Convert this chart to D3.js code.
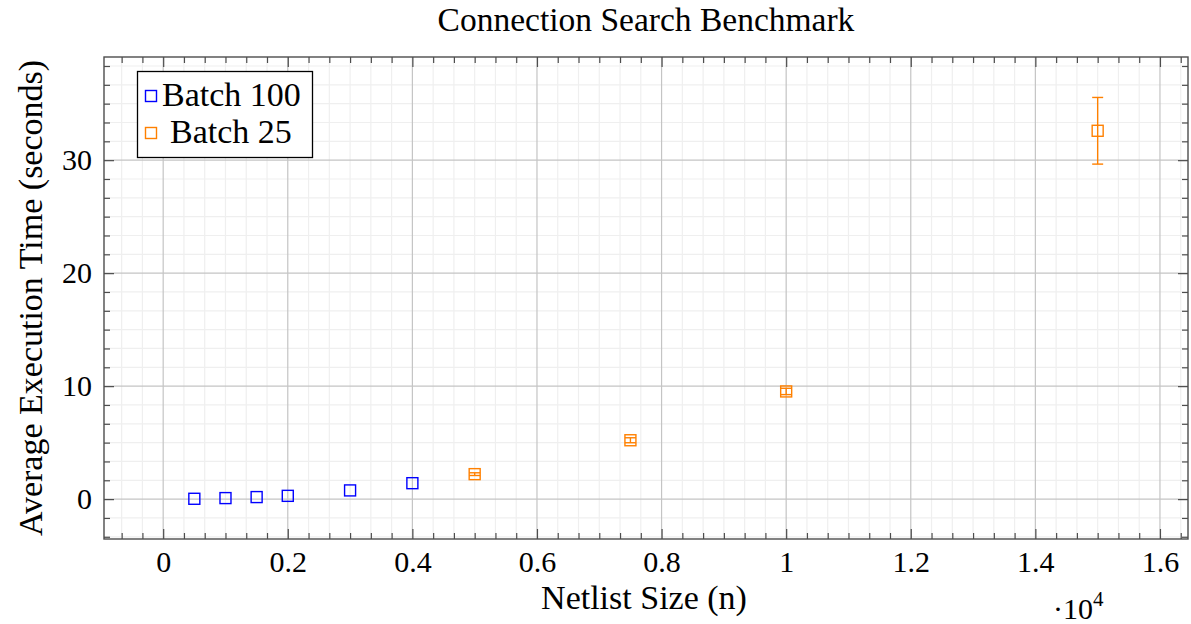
<!DOCTYPE html>
<html>
<head>
<meta charset="utf-8">
<script src="https://cdn.jsdelivr.net/npm/d3@7"></script>
<style>
  body { margin: 0; background: #fff; }
</style>
</head>
<body>
<div id="chart"></div>
<script>
// data
var batch100X = [500, 1000, 1500, 2000, 3000, 4000];
var batch100Y = [0.03, 0.09, 0.18, 0.29, 0.77, 1.41];
var batch25X = [5000, 7500, 10000, 15000];
var batch25Y = [2.21, 5.21, 9.53, 32.6];
var batch25Err = [0.12, 0.22, 0.28, 2.95];
var xTickValues = [0, 2000, 4000, 6000, 8000, 10000, 12000, 14000, 16000];
var yTickValues = [0, 10, 20, 30];
var seriesNames = ['Batch 100', 'Batch 25'];

var width = 1191, height = 624;
var margin = {left: 104, right: 3, top: 57, bottom: 85};
var plotW = width - margin.left - margin.right;
var plotH = height - margin.top - margin.bottom;

var blue = '#0000ff', orange = '#ff8000';
var frameColor = '#4d4d4d';
var serif = "'Liberation Serif', 'DejaVu Serif', serif";

var xScale = d3.scaleLinear().domain([-950, 16450]).range([0, plotW]);
var yScale = d3.scaleLinear().domain([-3.53, 39.13]).range([plotH, 0]);

var svg = d3.select('#chart').append('svg')
    .attr('width', width)
    .attr('height', height)
    .attr('font-family', serif);

var g = svg.append('g')
    .attr('transform', 'translate(' + margin.left + ',' + margin.top + ')');

// minor ticks: 5 between majors
var xMinor = d3.range(-6, 50).map(function(i){ return i * 2000 / 6; })
    .filter(function(v){ return v > -950 && v < 16450 && Math.abs(v / 2000 - Math.round(v / 2000)) > 1e-6; });
var yMinor = d3.range(-3, 25).map(function(i){ return i * 10 / 6; })
    .filter(function(v){ return v > -3.53 && v < 39.13 && Math.abs(v / 10 - Math.round(v / 10)) > 1e-6; });

// minor grid
g.append('g').selectAll('line').data(xMinor).enter().append('line')
    .attr('x1', xScale).attr('x2', xScale).attr('y1', 0).attr('y2', plotH)
    .attr('stroke', '#efefef').attr('stroke-width', 1.2);
g.append('g').selectAll('line').data(yMinor).enter().append('line')
    .attr('y1', yScale).attr('y2', yScale).attr('x1', 0).attr('x2', plotW)
    .attr('stroke', '#efefef').attr('stroke-width', 1.2);

// major grid
g.append('g').selectAll('line').data(xTickValues).enter().append('line')
    .attr('x1', xScale).attr('x2', xScale).attr('y1', 0).attr('y2', plotH)
    .attr('stroke', '#c4c4c4').attr('stroke-width', 1.2);
g.append('g').selectAll('line').data(yTickValues).enter().append('line')
    .attr('y1', yScale).attr('y2', yScale).attr('x1', 0).attr('x2', plotW)
    .attr('stroke', '#c4c4c4').attr('stroke-width', 1.2);

// axes with inward ticks on all sides
function styleAxis(sel) {
    sel.attr('font-family', serif);
    sel.select('.domain').remove();
    sel.selectAll('line').attr('stroke', frameColor).attr('stroke-width', 1.2);
    sel.selectAll('text').attr('font-family', serif).style('font-size', '30px').attr('fill', '#000');
}
var fmtX = function(d){ return d === 0 ? '0' : String(+(d / 10000).toFixed(1)); };

g.append('g').attr('transform', 'translate(0,' + plotH + ')')
    .call(d3.axisBottom(xScale).tickValues(xTickValues).tickFormat(fmtX).tickSize(-10).tickPadding(12))
    .call(styleAxis);
g.append('g').attr('transform', 'translate(0,' + plotH + ')')
    .call(d3.axisBottom(xScale).tickValues(xMinor).tickFormat('').tickSize(-6))
    .call(styleAxis);
g.append('g')
    .call(d3.axisTop(xScale).tickValues(xTickValues).tickFormat('').tickSize(-10))
    .call(styleAxis);
g.append('g')
    .call(d3.axisTop(xScale).tickValues(xMinor).tickFormat('').tickSize(-6))
    .call(styleAxis);

g.append('g')
    .call(d3.axisLeft(yScale).tickValues(yTickValues).tickFormat(d3.format('d')).tickSize(-10).tickPadding(12))
    .call(styleAxis);
g.append('g')
    .call(d3.axisLeft(yScale).tickValues(yMinor).tickFormat('').tickSize(-6))
    .call(styleAxis);
g.append('g').attr('transform', 'translate(' + plotW + ',0)')
    .call(d3.axisRight(yScale).tickValues(yTickValues).tickFormat('').tickSize(-10))
    .call(styleAxis);
g.append('g').attr('transform', 'translate(' + plotW + ',0)')
    .call(d3.axisRight(yScale).tickValues(yMinor).tickFormat('').tickSize(-6))
    .call(styleAxis);

// frame
g.append('rect')
    .attr('width', plotW).attr('height', plotH)
    .attr('fill', 'none').attr('stroke', frameColor).attr('stroke-width', 1.4);

// markers
var ms = 11;
var b100 = batch100X.map(function(x, i){ return {x: x, y: batch100Y[i]}; });
var b25 = batch25X.map(function(x, i){ return {x: x, y: batch25Y[i], e: batch25Err[i]}; });

// error bars for Batch 25
var eb = g.append('g').selectAll('g').data(b25).enter().append('g')
    .attr('stroke', orange).attr('stroke-width', 1.4);
eb.append('line')
    .attr('x1', function(d){ return xScale(d.x); }).attr('x2', function(d){ return xScale(d.x); })
    .attr('y1', function(d){ return yScale(d.y - d.e); }).attr('y2', function(d){ return yScale(d.y + d.e); });
eb.append('line')
    .attr('x1', function(d){ return xScale(d.x) - 5.5; }).attr('x2', function(d){ return xScale(d.x) + 5.5; })
    .attr('y1', function(d){ return yScale(d.y - d.e); }).attr('y2', function(d){ return yScale(d.y - d.e); });
eb.append('line')
    .attr('x1', function(d){ return xScale(d.x) - 5.5; }).attr('x2', function(d){ return xScale(d.x) + 5.5; })
    .attr('y1', function(d){ return yScale(d.y + d.e); }).attr('y2', function(d){ return yScale(d.y + d.e); });

g.append('g').selectAll('rect').data(b100).enter().append('rect')
    .attr('x', function(d){ return xScale(d.x) - ms / 2; })
    .attr('y', function(d){ return yScale(d.y) - ms / 2; })
    .attr('width', ms).attr('height', ms)
    .attr('fill', 'none').attr('stroke', blue).attr('stroke-width', 1.4);

g.append('g').selectAll('rect').data(b25).enter().append('rect')
    .attr('x', function(d){ return xScale(d.x) - ms / 2; })
    .attr('y', function(d){ return yScale(d.y) - ms / 2; })
    .attr('width', ms).attr('height', ms)
    .attr('fill', 'none').attr('stroke', orange).attr('stroke-width', 1.4);

// legend
var leg = svg.append('g');
leg.append('rect')
    .attr('x', 137.5).attr('y', 71.5).attr('width', 175).attr('height', 86)
    .attr('fill', '#fff').attr('stroke', '#000').attr('stroke-width', 1.3);
var legColors = [blue, orange];
var legTextX = [162, 170];
seriesNames.forEach(function(name, i){
    var cy = 96 + i * 37;
    leg.append('rect')
        .attr('x', 151 - ms / 2).attr('y', cy - ms / 2).attr('width', ms).attr('height', ms)
        .attr('fill', 'none').attr('stroke', legColors[i]).attr('stroke-width', 1.4);
    leg.append('text')
        .attr('x', legTextX[i]).attr('y', cy + 10)
        .style('font-size', '34px')
        .text(name);
});

// titles
svg.append('text')
    .attr('x', 646).attr('y', 31)
    .attr('text-anchor', 'middle')
    .style('font-size', '33.5px')
    .text('Connection Search Benchmark');

svg.append('text')
    .attr('x', 644).attr('y', 609)
    .attr('text-anchor', 'middle')
    .style('font-size', '34px')
    .text('Netlist Size (n)');

var exp = svg.append('text')
    .attr('x', 1053).attr('y', 619)
    .style('font-size', '30px');
exp.append('tspan').text('\u00b710');
exp.append('tspan').attr('dy', -13).style('font-size', '21px').text('4');

svg.append('text')
    .attr('transform', 'translate(42,298) rotate(-90)')
    .attr('text-anchor', 'middle')
    .style('font-size', '34px')
    .text('Average Execution Time (seconds)');
</script>
</body>
</html>
